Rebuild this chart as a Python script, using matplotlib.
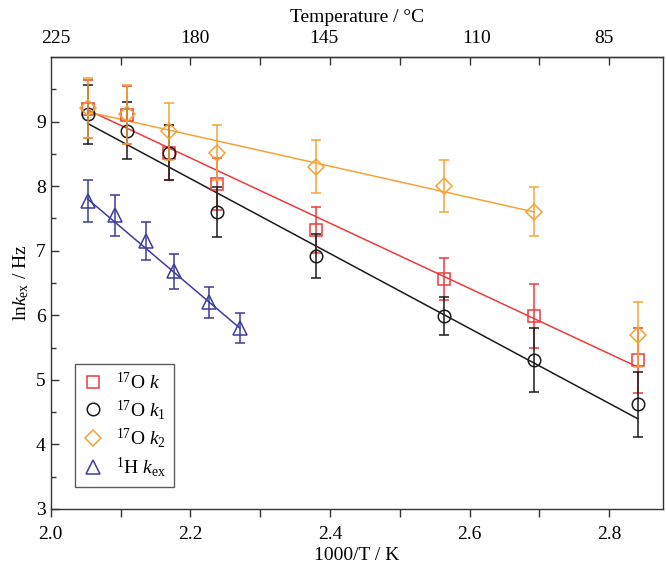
import matplotlib
matplotlib.use("Agg")
import matplotlib.pyplot as plt
import numpy as np
from matplotlib.lines import Line2D

plt.rcParams["font.family"] = ["Liberation Serif", "DejaVu Serif"]
plt.rcParams["mathtext.fontset"] = "custom"
plt.rcParams["mathtext.rm"] = "Liberation Serif"
plt.rcParams["mathtext.it"] = "Liberation Serif:italic"

# 17O data points (1000/T in K^-1)
x_o = [2.053, 2.109, 2.1695, 2.238, 2.380, 2.563, 2.6925, 2.8405]
k_vals = [9.20, 9.10, 8.52, 8.03, 7.32, 6.56, 5.99, 5.30]
k_err = [0.45, 0.45, 0.42, 0.40, 0.35, 0.32, 0.50, 0.50]
k1_vals = [9.11, 8.86, 8.52, 7.60, 6.92, 5.99, 5.31, 4.62]
k1_err = [0.45, 0.44, 0.43, 0.39, 0.34, 0.30, 0.50, 0.50]
k2_vals = [9.21, 9.11, 8.85, 8.52, 8.30, 8.00, 7.60, 5.70]
k2_err = [0.46, 0.45, 0.44, 0.42, 0.41, 0.40, 0.38, 0.50]

# 1H data points
x_h = [2.053, 2.092, 2.1365, 2.177, 2.227, 2.271]
kex_vals = [7.77, 7.55, 7.15, 6.68, 6.20, 5.80]
kex_err = [0.32, 0.32, 0.30, 0.27, 0.24, 0.23]

# fitted lines (start / end points)
fit_k_x, fit_k_y = [2.053, 2.8405], [9.18, 5.20]
fit_k1_x, fit_k1_y = [2.053, 2.8405], [8.97, 4.40]
fit_k2_x, fit_k2_y = [2.053, 2.6925], [9.15, 7.60]
fit_kex_x, fit_kex_y = [2.053, 2.271], [7.80, 5.80]

# top axis labels (degrees C)
temp_ticks = [225, 180, 145, 110, 85]

RED = "#ec3b3b"
BLACK = "#1a1a1a"
ORANGE = "#f6a336"
BLUE = "#3c3c9c"

fig = plt.figure(figsize=(6.66, 5.67), dpi=100)
ax = fig.add_axes([0.0761, 0.1023, 0.9194, 0.7972])

ax.plot(fit_k_x, fit_k_y, color=RED, lw=1.1, zorder=2)
ax.plot(fit_k1_x, fit_k1_y, color=BLACK, lw=1.1, zorder=2)
ax.plot(fit_k2_x, fit_k2_y, color=ORANGE, lw=1.1, zorder=2)
ax.plot(fit_kex_x, fit_kex_y, color=BLUE, lw=1.1, zorder=2)

common = dict(ls="none", mfc="none", capsize=3.6, elinewidth=1.1, capthick=1.1, mew=1.1)
ax.errorbar(x_o, k_vals, yerr=k_err, marker="s", ms=8, color=RED, zorder=3, **common)
ax.errorbar(x_o, k1_vals, yerr=k1_err, marker="o", ms=9, color=BLACK, zorder=4, **common)
ax.errorbar(x_o, k2_vals, yerr=k2_err, marker="D", ms=8, color=ORANGE, zorder=5, **common)
ax.errorbar(x_h, kex_vals, yerr=kex_err, marker="^", ms=9.5, color=BLUE, zorder=5, **common)

ax.set_xlim(2.0, 2.877)
ax.set_ylim(3, 10)
ax.set_xticks(np.arange(2.0, 2.81, 0.2))
ax.set_xticks(np.arange(2.1, 2.81, 0.2), minor=True)
ax.set_xticklabels(["2.0", "2.2", "2.4", "2.6", "2.8"])
ax.set_yticks(np.arange(3, 10, 1))
ax.set_yticks(np.arange(3.5, 10, 1), minor=True)

ax.tick_params(axis="x", which="both", direction="out", length=6, width=1,
               top=False, labelsize=14, color="#333333", pad=6)
ax.tick_params(axis="y", which="major", direction="in", length=6, width=1,
               right=False, labelsize=14, color="#333333")
ax.tick_params(axis="y", which="minor", direction="in", length=3.5, width=1,
               right=False, color="#333333")
for s in ax.spines.values():
    s.set_color("#333333")
    s.set_linewidth(1.0)

# top temperature axis
sec = ax.secondary_xaxis("top", functions=(lambda x: 1000.0 / np.asarray(x) - 273.15,
                                           lambda t: 1000.0 / (np.asarray(t) + 273.15)))
sec.set_xticks(temp_ticks)
sec.set_xticklabels([str(t) for t in temp_ticks])
sec.tick_params(length=0, labelsize=14, pad=7)
sec.set_xlabel("Temperature / °C", fontsize=14, labelpad=6)

# inward ticks on the top spine at every 0.1
top = ax.secondary_xaxis("top")
top.set_xticks(np.arange(2.1, 2.81, 0.1))
top.tick_params(direction="in", length=6, width=1, color="#333333", labelsize=0)
top.set_xticklabels([])

ax.set_xlabel("1000/T / K", fontsize=14, labelpad=3)
ax.set_ylabel(r"ln$\mathit{k}_{\mathrm{ex}}$ / Hz", fontsize=14, labelpad=4)

handles = [
    Line2D([], [], ls="none", marker="s", ms=8, mfc="none", mec=RED, mew=1.1),
    Line2D([], [], ls="none", marker="o", ms=9, mfc="none", mec=BLACK, mew=1.1),
    Line2D([], [], ls="none", marker="D", ms=8, mfc="none", mec=ORANGE, mew=1.1),
    Line2D([], [], ls="none", marker="^", ms=9.5, mfc="none", mec=BLUE, mew=1.1),
]
labels = [r"$^{17}$O $\mathit{k}$", r"$^{17}$O $\mathit{k}_{1}$",
          r"$^{17}$O $\mathit{k}_{2}$", r"$^{1}$H $\mathit{k}_{\mathrm{ex}}$"]
leg = ax.legend(handles, labels, loc="lower left", bbox_to_anchor=(0.04, 0.049),
                borderaxespad=0, fontsize=14, frameon=True, fancybox=False,
                handlelength=1.0, handletextpad=0.7, labelspacing=0.25,
                borderpad=0.4)
leg.get_frame().set_edgecolor("#333333")
leg.get_frame().set_linewidth(1.0)

fig.savefig("out.png", dpi=100)
